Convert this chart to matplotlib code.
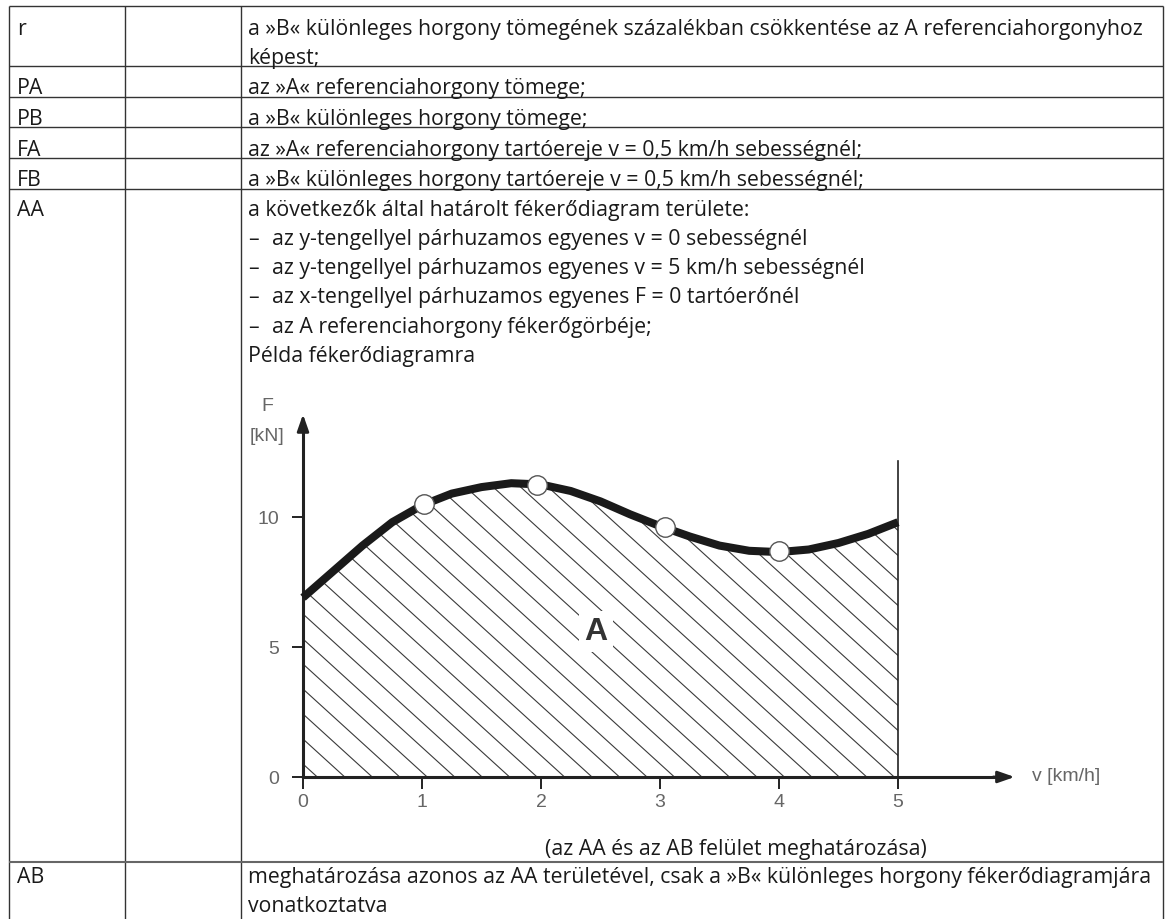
import numpy as np
import matplotlib
matplotlib.use('Agg')
import matplotlib.pyplot as plt

# ---------------- data ----------------
symbols = ['r', 'PA', 'PB', 'FA', 'FB', 'AA', 'AB']
desc_r = ['a »B« különleges horgony tömegének százalékban csökkentése az A referenciahorgonyhoz',
          'képest;']
desc_pa = 'az »A« referenciahorgony tömege;'
desc_pb = 'a »B« különleges horgony tömege;'
desc_fa = 'az »A« referenciahorgony tartóereje v = 0,5 km/h sebességnél;'
desc_fb = 'a »B« különleges horgony tartóereje v = 0,5 km/h sebességnél;'
desc_aa_head = 'a következők által határolt fékerődiagram területe:'
desc_aa_items = ['az y-tengellyel párhuzamos egyenes v = 0 sebességnél',
                 'az y-tengellyel párhuzamos egyenes v = 5 km/h sebességnél',
                 'az x-tengellyel párhuzamos egyenes F = 0 tartóerőnél',
                 'az A referenciahorgony fékerőgörbéje;']
desc_aa_example = 'Példa fékerődiagramra'
caption = '(az AA és az AB felület meghatározása)'
desc_ab = ['meghatározása azonos az AA területével, csak a »B« különleges horgony fékerődiagramjára',
           'vonatkoztatva']

# brake-force curve
v_curve = [0.0, 0.25, 0.5, 0.75, 1.0, 1.25, 1.5, 1.75, 2.0, 2.25, 2.5,
           2.75, 3.0, 3.25, 3.5, 3.75, 4.0, 4.25, 4.5, 4.75, 5.0]
F_curve = [6.9, 7.9, 8.9, 9.8, 10.45, 10.9, 11.15, 11.3, 11.25, 11.0, 10.6,
           10.1, 9.65, 9.25, 8.9, 8.7, 8.65, 8.75, 9.0, 9.35, 9.8]
v_marks = [1.02, 1.97, 3.04, 4.0]
F_marks = [10.5, 11.23, 9.6, 8.7]
x_ticks = [0, 1, 2, 3, 4, 5]
y_ticks = [0, 5, 10]

# ---------------- figure ----------------
W, H = 1167, 920
fig = plt.figure(figsize=(W / 100, H / 100), dpi=100)
bg = fig.add_axes([0, 0, 1, 1])
bg.set_xlim(0, W)
bg.set_ylim(H, 0)
bg.axis('off')

TFONT = ['Open Sans', 'DejaVu Sans']
tcol = '#1a1a1a'

# fit font size so the long first line spans the same width as the reference
fig.canvas.draw()
r = fig.canvas.get_renderer()
probe = bg.text(0, 0, desc_r[0], fontsize=10, family=TFONT)
w10 = probe.get_window_extent(r).width
probe.remove()
fs = 10 * 893 / w10

lc = '#333333'
for x in [9, 125, 241, 1163]:
    bg.plot([x, x], [7, H + 5], color=lc, lw=1.0, solid_capstyle='butt')
for y in [7, 67, 98, 128, 159, 190]:
    bg.plot([9, 1163], [y, y], color=lc, lw=1.0, solid_capstyle='butt')
bg.plot([9, 1163], [863, 863], color='#666666', lw=1.5, solid_capstyle='butt')

def put(x, y, s, **kw):
    bg.text(x, y, s, fontsize=fs, family=TFONT, color=tcol, va='baseline', ha='left', **kw)

sym_base = [35, 94, 125, 156, 186, 216, 883]
for s, yb in zip(symbols, sym_base):
    put(17, yb, s)

DX = 248
put(DX, 35, desc_r[0])
put(DX, 64, desc_r[1])
put(DX, 94, desc_pa)
put(DX, 125, desc_pb)
put(DX, 156, desc_fa)
put(DX, 186, desc_fb)
put(DX, 216, desc_aa_head)
for i, s in enumerate(desc_aa_items):
    put(DX, 245 + 29.2 * i, '–')
    put(DX + 24, 245 + 29.2 * i, s)
put(DX, 362, desc_aa_example)
bg.text(736, 855, caption, fontsize=fs, family=TFONT, color=tcol, va='baseline', ha='center')
put(DX, 883, desc_ab[0])
put(DX, 912, desc_ab[1])

# ---------------- diagram ----------------
X0, Y0, SX, SY = 303, 778, 119, 26   # pixel origin and pixel per unit
ax = fig.add_axes([240 / W, 1 - 820 / H, 920 / W, 430 / H])
ax.set_xlim((240 - X0) / SX, (1160 - X0) / SX)
ax.set_ylim((Y0 - 820) / SY, (Y0 - 390) / SY)
ax.patch.set_alpha(0)

axc = '#222222'
for side in ['top', 'right']:
    ax.spines[side].set_visible(False)
ax.spines['left'].set_position(('data', 0))
ax.spines['bottom'].set_position(('data', 0))
ax.spines['left'].set_bounds(0, 13.4)
ax.spines['bottom'].set_bounds(0, 5.85)
for side in ['left', 'bottom']:
    ax.spines[side].set_color(axc)
    ax.spines[side].set_linewidth(2.2)

CFONT = 'Liberation Sans'
ax.set_xticks(x_ticks)
ax.set_yticks(y_ticks)
ax.set_xticklabels([str(t) for t in x_ticks], family=CFONT)
ax.set_yticklabels([str(t) for t in y_ticks], family=CFONT)
ax.tick_params(axis='x', direction='out', length=8.5, width=1.4, color=axc,
               labelsize=14, labelcolor='#666666', pad=3)
ax.tick_params(axis='y', direction='out', length=8, width=1.4, color=axc,
               labelsize=14, labelcolor='#666666', pad=9)

ax.annotate('', xy=(0, 13.95), xytext=(0, 13.3),
            arrowprops=dict(arrowstyle='-|>,head_length=1.0,head_width=0.35', lw=2.0, color=axc,
                            shrinkA=0, shrinkB=0))
ax.annotate('', xy=(5.98, 0), xytext=(5.8, 0),
            arrowprops=dict(arrowstyle='-|>,head_length=1.0,head_width=0.35', lw=2.0, color=axc,
                            shrinkA=0, shrinkB=0))

# area and hatching
poly = ax.fill_between(v_curve, F_curve, 0, facecolor='white', edgecolor='none', zorder=1)
clip_path = poly.get_paths()[0]
slope = (0.91 / SY) / (1 / SX)
step = 25 / SY
b0 = (Y0 - 615) / SY
for k in range(-8, 28):
    b = b0 + k * step
    ln, = ax.plot([0, 5.2], [b, b - slope * 5.2], color='#3a3a3a', lw=0.8, zorder=2)
    ln.set_clip_path(clip_path, poly.get_transform())

ax.plot([5, 5], [0, 12.15], color=axc, lw=1.2, zorder=3)
ax.plot(v_curve, F_curve, color='#1a1a1a', lw=5.8, zorder=4, solid_capstyle='butt')
ax.plot(v_marks, F_marks, 'o', ms=14, mfc='white', mec='#555555', mew=1.0, zorder=5)

ax.text(2.46, 5.6, 'A', fontsize=23, family=CFONT, fontweight='bold', color='#333333',
        ha='center', va='center', zorder=3,
        bbox=dict(facecolor='white', edgecolor='none', pad=4))
ax.text(-0.30, 14.27, 'F', fontsize=14, family=CFONT, color='#666666', ha='center', va='center')
ax.text(-0.30, 13.15, '[kN]', fontsize=14, family=CFONT, color='#666666', ha='center', va='center')
ax.text(6.13, 0.05, 'v [km/h]', fontsize=14, family=CFONT, color='#666666', ha='left', va='center')

fig.savefig('out.png', dpi=100)
